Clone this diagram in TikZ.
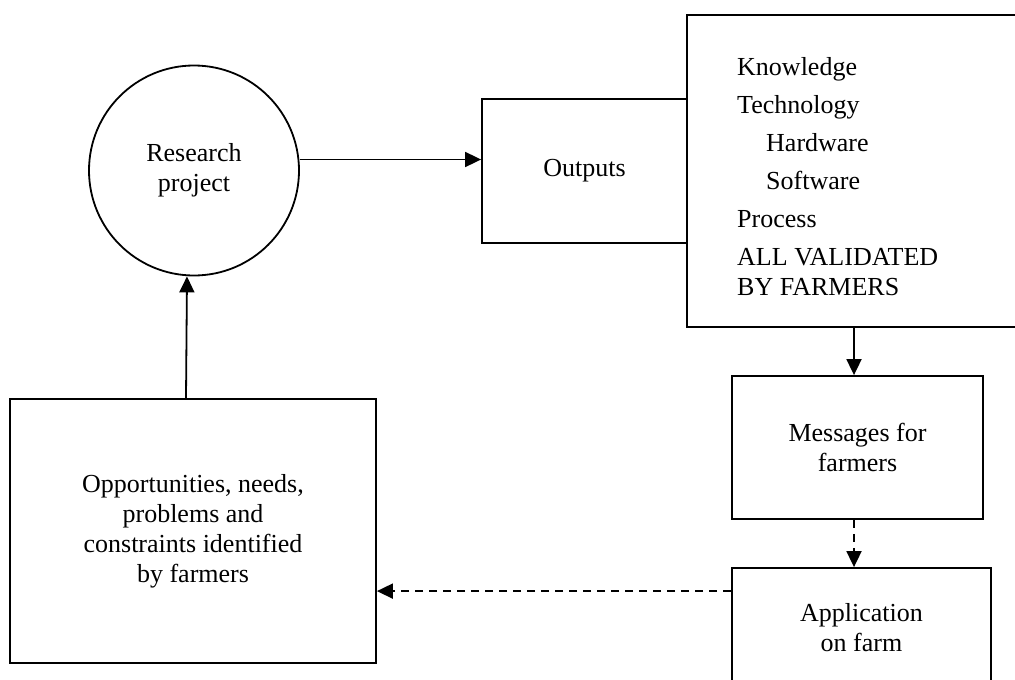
\documentclass[tikz,border=0pt]{standalone}
\usepackage{fontspec}
\setmainfont{Liberation Serif}
\usetikzlibrary{positioning,arrows.meta}

\begin{document}
\begin{tikzpicture}[
    x=1pt, y=-1pt,
    box/.style={draw, line width=1.8pt, align=center, inner sep=2pt},
    proj/.style={draw, circle, line width=1.8pt, minimum size=210pt, inner sep=0pt,
                 align=center},
    arr/.style={-{Triangle[length=16pt, width=15pt]}, line width=1.8pt},
    darr/.style={arr, dash pattern=on 8pt off 6pt},
    every node/.style={font=\fontsize{26}{30}\selectfont}
  ]
  \useasboundingbox (0,0) rectangle (1015,680);

  % ===== Research cycle (left) =====
  \node[proj] (circ) at (194,170.5) {Research\\project};
  \node[box, minimum width=366pt, minimum height=264pt] (opp) at (193,531)
    {Opportunities, needs,\\problems and\\constraints identified\\by farmers};

  % ===== Outputs and their contents (top right) =====
  \node[box, minimum width=205pt, minimum height=144pt] (out) at (584.5,171) {Outputs};
  \node[box, minimum width=360pt, minimum height=312pt] (big) at (867,171) {};
  \node[anchor=north west, inner sep=0pt, align=left] (items) at (737,57) {%
    Knowledge\\[8pt]
    Technology\\[8pt]
    \hspace*{29pt}Hardware\\[8pt]
    \hspace*{29pt}Software\\[8pt]
    Process\\[8pt]
    ALL VALIDATED\\
    BY FARMERS};

  % ===== Farm side (bottom right) =====
  \node[box, minimum width=251pt, minimum height=143pt] (msg) at (857.5,447.5)
    {Messages for\\farmers};
  \node[box, minimum width=259pt, minimum height=120pt] (app) at (861.5,628)
    {Application\\on farm};

  % ===== Connectors =====
  \draw[arr] ([yshift=11pt]circ.east) -- ([yshift=11pt]circ.east -| out.west);
  \draw[arr] ([xshift=-3.5pt]msg.north |- big.south) -- ([xshift=-3.5pt]msg.north);
  \draw[darr] ([xshift=-3.5pt]msg.south) -- ([xshift=-3.5pt]msg.south |- app.north);
  \draw[darr] ([yshift=-24pt]app.north west) -- ([yshift=-24pt]app.north west -| opp.east);
  \draw[arr] ([xshift=-7pt]opp.north) -- ([xshift=-7pt]circ.south);
\end{tikzpicture}
\end{document}
